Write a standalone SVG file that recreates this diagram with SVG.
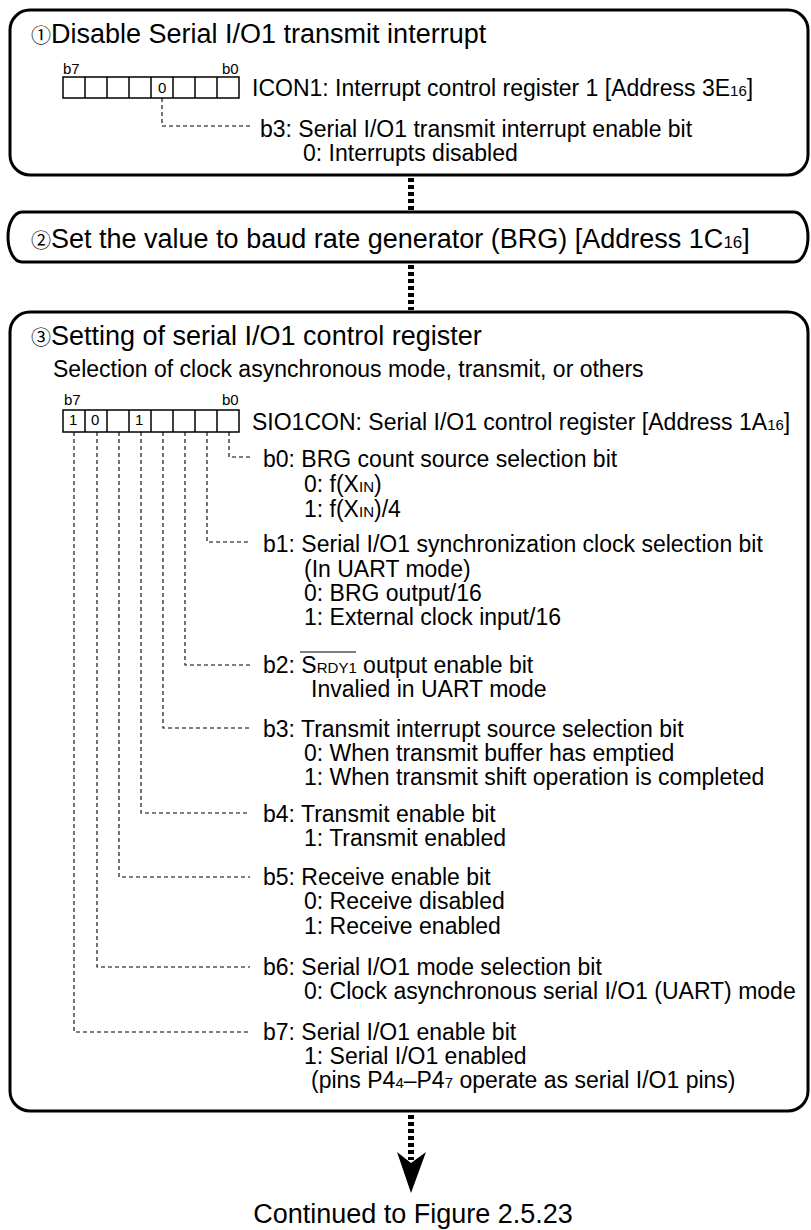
<svg xmlns="http://www.w3.org/2000/svg" width="811" height="1230" viewBox="0 0 811 1230">
<defs>
<style>
.t{font-family:"Liberation Sans",Arial,sans-serif;fill:#000}
.ti{font-size:27px}
.d{font-size:23px}
.s{font-size:15px}
.c{font-family:"Noto Sans CJK JP","DejaVu Sans",sans-serif;font-size:20px}
.box{fill:#fff;stroke:#000;stroke-width:3}
.reg{fill:#fff;stroke:#000;stroke-width:1.5}
.cell{stroke:#000;stroke-width:1.5}
.ld{fill:none;stroke:#000;stroke-width:1.1;stroke-dasharray:4 3}
.flow{fill:none;stroke:#000;stroke-width:6;stroke-dasharray:4 3}
</style>
</defs>
<rect width="811" height="1230" fill="#fff"/>

<g id="connectors">
<line class="flow" x1="411" y1="178" x2="411" y2="210"/>
<line class="flow" x1="411" y1="265" x2="411" y2="310"/>
<line class="flow" x1="411" y1="1115" x2="411" y2="1160"/>
<path d="M397,1152 L411,1163 L426,1152 L411,1193 Z" fill="#000"/>
</g>

<g id="step1">
<rect class="box" x="10" y="10" width="798" height="165" rx="20"/>
<text class="t ti" x="31" y="43"><tspan class="c">①</tspan>Disable Serial I/O1 transmit interrupt</text>
<text class="t s" x="63" y="74">b7</text>
<text class="t s" x="222" y="74">b0</text>
<rect class="reg" x="63" y="77" width="176" height="21"/>
<path class="cell" d="M85,77V98M107,77V98M129,77V98M151,77V98M173,77V98M195,77V98M217,77V98"/>
<text class="t s" x="158" y="93">0</text>
<text class="t d" x="252" y="96">ICON1: Interrupt control register 1 [Address 3E<tspan font-size="15">16</tspan>]</text>
<path class="ld" d="M162,98V126H250"/>
<text class="t d" x="260" y="137">b3: Serial I/O1 transmit interrupt enable bit</text>
<text class="t d" x="303" y="161">0: Interrupts disabled</text>
</g>

<g id="step2">
<rect class="box" x="8" y="212" width="800" height="50" rx="14" ry="25"/>
<text class="t ti" x="31" y="248"><tspan class="c">②</tspan>Set the value to baud rate generator (BRG) [Address 1C<tspan font-size="17">16</tspan>]</text>
</g>

<g id="step3">
<rect class="box" x="10" y="312" width="798" height="799" rx="20"/>
<text class="t ti" x="31" y="345"><tspan class="c">③</tspan>Setting of serial I/O1 control register</text>
<text class="t d" x="53" y="377">Selection of clock asynchronous mode, transmit, or others</text>
<text class="t s" x="64" y="405">b7</text>
<text class="t s" x="222" y="405">b0</text>
<rect class="reg" x="63" y="410" width="176" height="22"/>
<path class="cell" d="M85,410V432M107,410V432M129,410V432M151,410V432M173,410V432M195,410V432M217,410V432"/>
<text class="t s" x="69" y="425">1</text>
<text class="t s" x="91" y="425">0</text>
<text class="t s" x="135" y="425">1</text>
<text class="t d" x="252" y="430">SIO1CON: Serial I/O1 control register [Address 1A<tspan font-size="15">16</tspan>]</text>

<g id="leaders">
<path class="ld" d="M229,432V457H250"/>
<path class="ld" d="M207,432V542H250"/>
<path class="ld" d="M185,432V665H250"/>
<path class="ld" d="M163,432V728H250"/>
<path class="ld" d="M141,432V813H250"/>
<path class="ld" d="M119,432V877H250"/>
<path class="ld" d="M97,432V967H250"/>
<path class="ld" d="M74,432V1032H250"/>
</g>

<text class="t d" x="263" y="467">b0: BRG count source selection bit</text>
<text class="t d" x="304" y="492">0: f(X<tspan font-size="15">IN</tspan>)</text>
<text class="t d" x="304" y="517">1: f(X<tspan font-size="15">IN</tspan>)/4</text>

<text class="t d" x="263" y="552">b1: Serial I/O1 synchronization clock selection bit</text>
<text class="t d" x="304" y="577">(In UART mode)</text>
<text class="t d" x="304" y="601">0: BRG output/16</text>
<text class="t d" x="304" y="625">1: External clock input/16</text>

<text class="t d" x="263" y="673">b2: S<tspan font-size="15">RDY1</tspan> output enable bit</text>
<line x1="300" y1="652" x2="356" y2="652" stroke="#000" stroke-width="1"/>
<text class="t d" x="311" y="697">Invalied in UART mode</text>

<text class="t d" x="263" y="737">b3: Transmit interrupt source selection bit</text>
<text class="t d" x="304" y="761">0: When transmit buffer has emptied</text>
<text class="t d" x="304" y="785">1: When transmit shift operation is completed</text>

<text class="t d" x="263" y="822">b4: Transmit enable bit</text>
<text class="t d" x="304" y="846">1: Transmit enabled</text>

<text class="t d" x="263" y="885">b5: Receive enable bit</text>
<text class="t d" x="304" y="909">0: Receive disabled</text>
<text class="t d" x="304" y="934">1: Receive enabled</text>

<text class="t d" x="263" y="975">b6: Serial I/O1 mode selection bit</text>
<text class="t d" x="304" y="999">0: Clock asynchronous serial I/O1 (UART) mode</text>

<text class="t d" x="263" y="1040">b7: Serial I/O1 enable bit</text>
<text class="t d" x="304" y="1064">1: Serial I/O1 enabled</text>
<text class="t d" x="311" y="1088">(pins P4<tspan font-size="15">4</tspan>–P4<tspan font-size="15">7</tspan> operate as serial I/O1 pins)</text>
</g>

<g id="continued">
<text class="t ti" x="413" y="1223" text-anchor="middle" font-size="26">Continued to Figure 2.5.23</text>
</g>
</svg>
